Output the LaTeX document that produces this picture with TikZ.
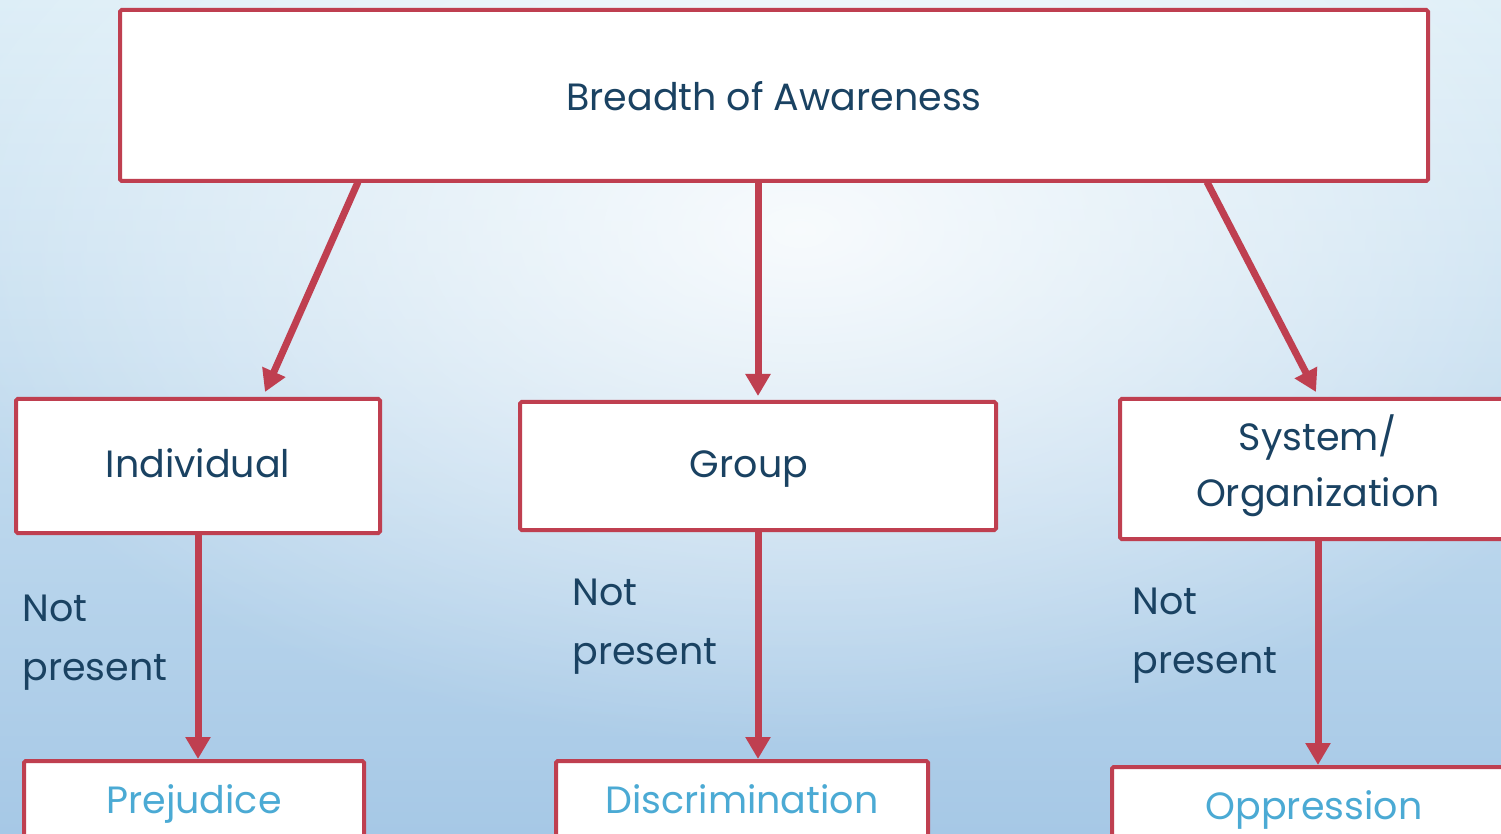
\documentclass[tikz,border=0pt]{standalone}
\usepackage{fontspec}
\setmainfont{Poppins}
\usetikzlibrary{arrows.meta,fadings}
\definecolor{boxred}{HTML}{BF3F50}
\definecolor{darktxt}{HTML}{1A4262}
\definecolor{lighttxt}{HTML}{4BAAD4}
\definecolor{bgtop}{HTML}{DDEEF7}
\definecolor{bgbot}{HTML}{A6C8E6}
\tikzfading[name=glow, inner color=transparent!0, outer color=transparent!100]
\begin{document}
\begin{tikzpicture}[x=0.5pt,y=-0.5pt,
  box/.style={draw=boxred, line width=2pt, fill=white, rounded corners=0.8pt, inner sep=0pt},
  main/.style={text=darktxt, font=\fontsize{19}{28}\selectfont, align=center, text height=0.72em, text depth=0.2em},
  multi/.style={text=darktxt, font=\fontsize{19}{28}\selectfont, align=center},
  side/.style={text=darktxt, font=\fontsize{19}{29.5}\selectfont, align=left, anchor=north west, inner sep=0pt},
  res/.style={text=lighttxt, font=\fontsize{19}{28}\selectfont, text height=0.72em, text depth=0.2em},
  conn/.style={draw=boxred, line width=3.5pt, -{Triangle[width=12pt,length=11pt]}}]
\useasboundingbox (0,0) rectangle (1501,834);
\clip (0,0) rectangle (1501,834);
\shade[top color=bgtop, bottom color=bgbot] (0,0) rectangle (1501,834);
\fill[white, path fading=glow, opacity=0.85] (800,230) ellipse [x radius=900, y radius=520];
% boxes
\node[box, minimum width=654pt, minimum height=85.5pt] (top) at (774,95.5) {};
\node[main] (topT) at (774,105) {Breadth of Awareness};
\node[box, minimum width=182pt, minimum height=67pt] (ind) at (198,466) {};
\node[main] (indT) at (198,472) {Individual};
\node[box, minimum width=238pt, minimum height=64pt] (grp) at (758,466) {};
\node[main] (grpT) at (749,472) {Group};
\node[box, minimum width=198pt, minimum height=70pt] (sys) at (1318,469) {};
\node[multi] (sysT) at (1318,466) {System/\\Organization};
\node[box, minimum width=170pt, minimum height=45pt] (prej) at (194,806) {};
\node[res] (prejT) at (194,808) {Prejudice};
\node[box, minimum width=186pt, minimum height=45pt] (disc) at (742,806) {};
\node[res] (discT) at (742,808) {Discrimination};
\node[box, minimum width=202pt, minimum height=45pt] (opp) at (1314,812) {};
\node[res] (oppT) at (1314,814) {Oppression};
% side labels
\node[side] (np1) at (22,595) {Not\\present};
\node[side] (np2) at (572,579) {Not\\present};
\node[side] (np3) at (1132,588) {Not\\present};
% connectors
\coordinate (s1) at (358,182);
\coordinate (e1) at (265,392);
\coordinate (s3) at (1207,182);
\coordinate (e3) at (1316,392);
\draw[conn] (s1) -- (e1);
\draw[conn] (top.south -| grp.north) -- ([yshift=2pt]grp.north);
\draw[conn] (s3) -- (e3);
\draw[conn] (ind.south) -- (ind.south |- prej.north);
\draw[conn] (grp.south) -- (disc.north -| grp.south);
\draw[conn] (sys.south) -- (opp.north -| sys.south);
\end{tikzpicture}
\end{document}
